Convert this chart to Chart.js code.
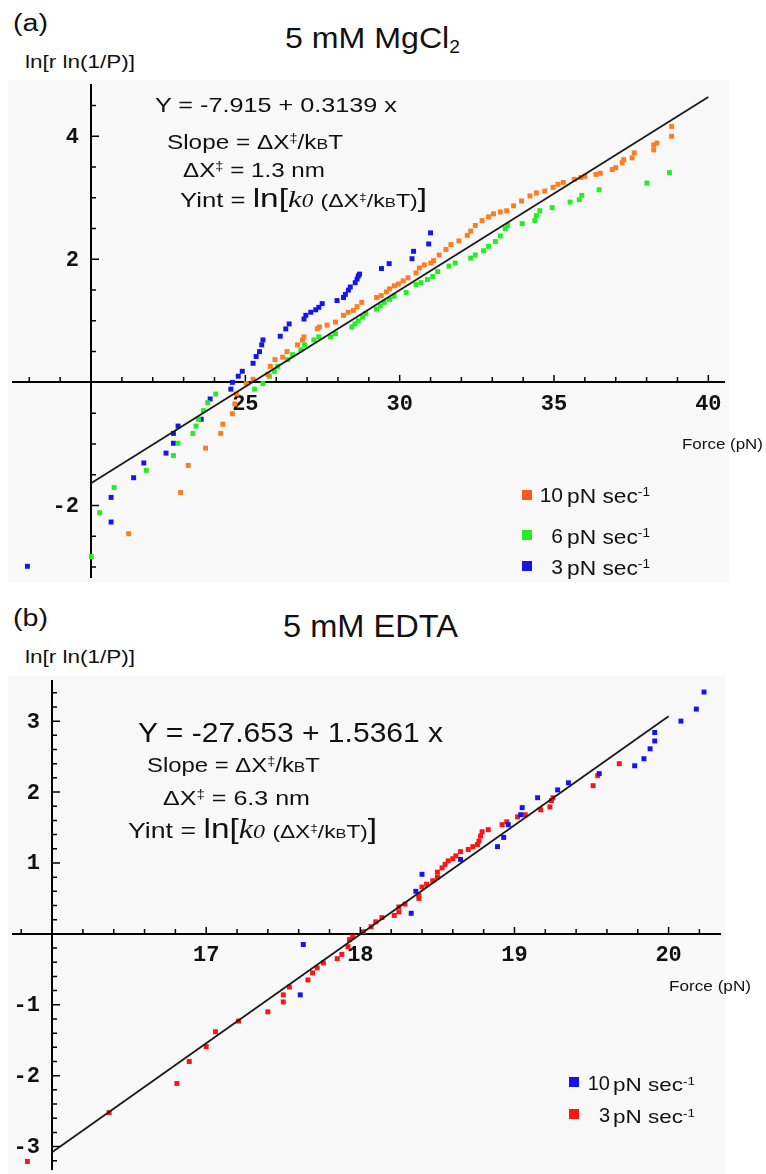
<!DOCTYPE html>
<html><head><meta charset="utf-8">
<script src="https://cdn.jsdelivr.net/npm/chart.js@4.4.0/dist/chart.umd.min.js"></script>
<style>
html,body{margin:0;padding:0;background:#fff}
body{width:766px;height:1174px;position:relative;overflow:hidden;font-family:"Liberation Sans",Arial,sans-serif;color:#111}
.t{position:absolute;white-space:nowrap;line-height:1;transform-origin:left top}
.t span,.t sup,.t sub{line-height:0}
sup{font-size:.6em;vertical-align:.55em}
sub{font-size:.6em;vertical-align:-.28em}
.k0{font-family:"Liberation Serif",serif;font-style:italic}
.sc{font-size:.72em}
.sq{position:absolute;width:10px;height:10px}
#wa{position:absolute;left:8px;top:80px;width:721px;height:502px;background:#f8f8f8}
#wb{position:absolute;left:8px;top:676px;width:717px;height:498px;background:#f8f8f8}
</style></head><body>

<div class="t fit" data-w="35" style="left:13px;top:12px;font-size:23px">(a)</div>
<div class="t fit" data-w="175" style="left:285px;top:23px;font-size:30px">5 mM MgCl<sub>2</sub></div>
<div class="t fit" data-w="110" style="left:25px;top:53px;font-size:18px">ln[r ln(1/P)]</div>

<div id="wa"><canvas id="ca"></canvas></div>

<div class="t fit" data-w="242" style="left:155px;top:94px;font-size:21px">Y = -7.915 + 0.3139 x</div>
<div class="t fit" data-w="176" style="left:167px;top:132px;font-size:20px">Slope = ΔX<sup>‡</sup>/k<span class="sc">B</span>T</div>
<div class="t fit" data-w="142" style="left:183px;top:160px;font-size:20px">ΔX<sup>‡</sup> = 1.3 nm</div>
<div class="t fit" data-w="247" style="left:180px;top:190px;font-size:20px">Yint = <span style="font-size:1.3em">ln[</span><span class="k0" style="font-size:1.2em">k<span style="font-size:.75em">0</span></span> <span style="font-size:.9em">(ΔX<sup>‡</sup>/k<span class="sc">B</span>T)</span><span style="font-size:1.3em">]</span></div>

<div class="sq" style="left:522px;top:490px;background:#ff5a14"></div>
<div class="sq" style="left:522px;top:530px;background:#22ee22"></div>
<div class="sq" style="left:522px;top:561px;background:#1414ee"></div>
<div class="t" style="left:520px;width:43px;text-align:right;top:483.5px;font-size:21px">10</div>
<div class="t" style="left:520px;width:43px;text-align:right;top:524.5px;font-size:21px">6</div>
<div class="t" style="left:520px;width:43px;text-align:right;top:555.5px;font-size:21px">3</div>
<div class="t fit" data-w="83" style="left:567px;top:485.5px;font-size:20px">pN sec<sup>-1</sup></div>
<div class="t fit" data-w="83" style="left:567px;top:526.5px;font-size:20px">pN sec<sup>-1</sup></div>
<div class="t fit" data-w="83" style="left:567px;top:557.5px;font-size:20px">pN sec<sup>-1</sup></div>
<div class="t fit" data-w="81" style="left:682px;top:436px;font-size:15px">Force (pN)</div>

<div class="t fit" data-w="35" style="left:13px;top:607px;font-size:23px">(b)</div>
<div class="t fit" data-w="175" style="left:283px;top:611px;font-size:31px">5 mM EDTA</div>
<div class="t fit" data-w="110" style="left:25px;top:648px;font-size:18px">ln[r ln(1/P)]</div>

<div id="wb"><canvas id="cb"></canvas></div>

<div class="t fit" data-w="305" style="left:138px;top:719px;font-size:28px">Y = -27.653 + 1.5361 x</div>
<div class="t fit" data-w="173" style="left:147px;top:755px;font-size:20px">Slope = ΔX<sup>‡</sup>/k<span class="sc">B</span>T</div>
<div class="t fit" data-w="147" style="left:163px;top:787px;font-size:21px">ΔX<sup>‡</sup> = 6.3 nm</div>
<div class="t fit" data-w="249" style="left:128px;top:820px;font-size:22px">Yint = <span style="font-size:1.25em">ln[</span><span class="k0" style="font-size:1.2em">k<span style="font-size:.75em">0</span></span> <span style="font-size:.85em">(ΔX<sup>‡</sup>/k<span class="sc">B</span>T)</span><span style="font-size:1.25em">]</span></div>

<div class="sq" style="left:569px;top:1077px;background:#1414ee"></div>
<div class="sq" style="left:569px;top:1109px;background:#ff1414"></div>
<div class="t" style="left:560px;width:50px;text-align:right;top:1072.5px;font-size:20px">10</div>
<div class="t" style="left:560px;width:50px;text-align:right;top:1104.5px;font-size:20px">3</div>
<div class="t fit" data-w="82" style="left:613px;top:1074.5px;font-size:19px">pN sec<sup>-1</sup></div>
<div class="t fit" data-w="82" style="left:613px;top:1106.5px;font-size:19px">pN sec<sup>-1</sup></div>
<div class="t fit" data-w="82" style="left:669px;top:978px;font-size:15px">Force (pN)</div>

<script>
// ---------- Panel (a): 5 mM MgCl2 ----------
const a10F = [21.22,22.9,23.15,23.71,24.2,24.27,24.58,24.66,24.71,25.03,25.25,25.73,25.81,25.96,26.21,26.35,26.69,26.85,26.9,27.33,27.4,27.65,27.92,28.18,28.33,28.5,28.62,28.77,29.25,29.4,29.57,29.67,29.83,29.96,30.11,30.27,30.53,30.64,30.8,31.01,31.1,31.28,31.5,31.66,31.92,32.19,32.3,32.45,32.67,32.88,33.04,33.26,33.47,33.69,33.95,34.22,34.43,34.7,34.97,35.13,35.3,35.66,35.87,36.0,36.36,36.5,36.89,37.0,37.21,37.26,37.53,37.6,38.23,38.23,38.33,38.81,38.81];
const a10Y = [-2.46,-1.79,-1.35,-1.07,-0.83,-0.68,-0.51,-0.35,-0.19,-0.02,0.05,0.13,0.26,0.37,0.41,0.50,0.61,0.69,0.74,0.87,0.9,0.93,0.98,1.09,1.14,1.17,1.23,1.30,1.38,1.41,1.47,1.52,1.57,1.6,1.65,1.70,1.78,1.86,1.91,1.94,1.98,2.07,2.16,2.24,2.3,2.39,2.46,2.55,2.63,2.69,2.74,2.77,2.79,2.87,2.95,3.03,3.08,3.11,3.17,3.22,3.25,3.3,3.33,3.35,3.38,3.4,3.46,3.49,3.57,3.62,3.65,3.73,3.78,3.86,3.89,4.0,4.16];

const a6F = [20.01,20.28,20.75,21.79,22.67,22.82,23.3,23.4,23.48,23.64,23.78,24.04,25.3,25.57,25.78,25.94,26.05,26.37,26.53,26.8,26.92,27.22,27.38,27.76,27.92,28.45,28.55,28.66,28.8,28.9,29.25,29.37,29.5,29.67,29.82,30.21,30.53,30.69,30.9,31.07,31.23,31.6,31.8,32.3,32.45,32.72,32.88,33.1,33.26,33.42,33.5,33.97,34.38,34.43,34.54,34.94,35.52,35.82,35.9,36.46,38.01,38.74];
const a6Y = [-2.83,-2.12,-1.71,-1.43,-1.19,-0.99,-0.83,-0.71,-0.6,-0.46,-0.33,-0.19,-0.11,-0.02,0.10,0.18,0.26,0.37,0.45,0.53,0.61,0.69,0.74,0.74,0.79,0.90,0.95,1.0,1.06,1.12,1.19,1.24,1.30,1.35,1.40,1.46,1.59,1.62,1.67,1.72,1.80,1.89,1.94,2.02,2.07,2.14,2.21,2.29,2.38,2.5,2.55,2.58,2.63,2.71,2.79,2.84,2.93,2.97,3.04,3.13,3.24,3.41];

const a3F = [17.94,20.65,20.65,21.38,21.71,22.43,22.67,22.67,22.82,23.57,23.86,24.53,24.58,24.77,24.9,25.25,25.35,25.46,25.53,25.57,26.13,26.31,26.42,26.9,26.96,27.12,27.28,27.38,27.49,27.97,28.18,28.24,28.34,28.4,28.56,28.62,28.66,28.7,29.41,29.66,30.4,30.45,30.94,31.0];
const a3Y = [-2.99,-2.27,-1.87,-1.55,-1.31,-1.15,-0.99,-0.83,-0.71,-0.6,-0.27,-0.11,0.0,0.10,0.18,0.31,0.42,0.50,0.61,0.69,0.75,0.87,0.95,1.03,1.09,1.14,1.18,1.22,1.28,1.33,1.38,1.43,1.50,1.55,1.62,1.68,1.73,1.76,1.85,1.93,2.01,2.13,2.25,2.43];

const fitAF = [20, 40];
const fitAY = [-1.64, 4.64];

const aXTickVals = [25, 30, 35, 40];
const aXTickLabels = ['25', '30', '35', '40'];
const aYTickVals = [4, 2, -2];
const aYTickLabels = ['4', '2', '-2'];

// ---------- Panel (b): 5 mM EDTA ----------
const b3F = [15.84,16.37,16.81,16.89,17.0,17.06,17.21,17.4,17.5,17.5,17.54,17.66,17.69,17.72,17.76,17.85,17.88,17.92,17.93,17.95,18.02,18.07,18.1,18.14,18.22,18.25,18.25,18.29,18.38,18.38,18.4,18.43,18.47,18.5,18.5,18.53,18.55,18.57,18.6,18.62,18.65,18.7,18.73,18.76,18.77,18.78,18.79,18.83,18.92,18.95,19.02,19.07,19.17,19.23,19.24,19.25,19.51,19.54,19.68];
const b3Y = [-3.21,-2.52,-2.11,-1.80,-1.59,-1.38,-1.23,-1.10,-0.96,-0.86,-0.75,-0.65,-0.55,-0.48,-0.41,-0.35,-0.29,-0.18,-0.08,-0.04,0.03,0.10,0.17,0.23,0.26,0.31,0.38,0.42,0.5,0.54,0.66,0.70,0.75,0.8,0.87,0.93,0.98,1.03,1.06,1.10,1.16,1.19,1.23,1.26,1.31,1.38,1.44,1.47,1.54,1.58,1.65,1.68,1.75,1.79,1.88,1.92,2.09,2.23,2.40];

const b10F = [17.61,17.63,18.33,18.36,18.4,18.65,18.89,18.93,18.96,19.04,19.05,19.15,19.28,19.35,19.55,19.78,19.84,19.88,19.91,19.91,20.08,20.18,20.23];
const b10Y = [-0.86,-0.15,0.29,0.60,0.84,1.05,1.23,1.36,1.54,1.68,1.78,1.92,2.03,2.13,2.26,2.37,2.47,2.61,2.72,2.84,3.0,3.17,3.41];

const fitBF = [16, 20];
const fitBY = [-3.08, 3.07];

const bXTickVals = [17, 18, 19, 20];
const bXTickLabels = ['17', '18', '19', '20'];
const bYTickVals = [3, 2, 1, -1, -2, -3];
const bYTickLabels = ['3', '2', '1', '-1', '-2', '-3'];

// ---------- helpers ----------
function pts(fs, ys) { return fs.map((f, i) => ({ x: f, y: ys[i] })); }

const crossAxes = {
  id: 'crossAxes',
  beforeDatasetsDraw(chart, args, o) {
    const { ctx, chartArea: a, scales: { x, y } } = chart;
    const ox = Math.round(x.getPixelForValue(o.originX));
    const oy = Math.round(y.getPixelForValue(o.originY));
    ctx.save();
    ctx.strokeStyle = '#000';
    ctx.lineWidth = 2;
    ctx.beginPath();
    ctx.moveTo(a.left, oy); ctx.lineTo(a.right, oy);
    ctx.moveTo(ox, a.top); ctx.lineTo(ox, a.bottom);
    ctx.stroke();
    ctx.lineWidth = 1.5;
    ctx.beginPath();
    const isMajor = (v, vals) => vals.some(m => Math.abs(m - v) < 1e-6);
    for (let i = Math.ceil(x.min / o.xStep - 1e-9); i * o.xStep <= x.max + 1e-9; i++) {
      const v = i * o.xStep;
      const px = x.getPixelForValue(v);
      const len = isMajor(v, o.xMajor) ? 7 : 5;
      ctx.moveTo(px, oy); ctx.lineTo(px, oy - len);
    }
    for (let i = Math.ceil(y.min / o.yStep - 1e-9); i * o.yStep <= y.max + 1e-9; i++) {
      const v = i * o.yStep;
      const py = y.getPixelForValue(v);
      const len = isMajor(v, o.yMajor) ? 8 : 5;
      ctx.moveTo(ox, py); ctx.lineTo(ox + len, py);
    }
    ctx.stroke();
    ctx.fillStyle = '#111';
    ctx.font = o.font;
    ctx.textAlign = 'center';
    ctx.textBaseline = 'middle';
    o.xVals.forEach((v, i) => ctx.fillText(o.xLabels[i], x.getPixelForValue(v), oy + o.xLabelDy));
    ctx.textAlign = 'right';
    o.yVals.forEach((v, i) => ctx.fillText(o.yLabels[i], ox - o.yLabelDx, y.getPixelForValue(v) + 1));
    ctx.restore();
  }
};

function makeChart(id, sets, xr, yr, axesOpts) {
  return new Chart(document.getElementById(id), {
    type: 'scatter',
    data: { datasets: sets },
    options: {
      responsive: true, maintainAspectRatio: false, animation: false, events: [],
      layout: { padding: 0 },
      scales: {
        x: { type: 'linear', min: xr[0], max: xr[1], display: false },
        y: { type: 'linear', min: yr[0], max: yr[1], display: false }
      },
      elements: { point: { pointStyle: 'rect', radius: 3.5, borderWidth: 0 } },
      plugins: { legend: { display: false }, tooltip: { enabled: false }, crossAxes: axesOpts }
    },
    plugins: [crossAxes]
  });
}

const tickFont = 'bold 22px "Liberation Mono", "DejaVu Sans Mono", monospace';

makeChart('ca', [
  { label: 'fit', data: pts(fitAF, fitAY), showLine: true, borderColor: '#1a1a1a', borderWidth: 1.8, pointRadius: 0 },
  { label: '10 pN sec-1', data: pts(a10F, a10Y), backgroundColor: '#ff7d20', pointBackgroundColor: '#ff7d20' },
  { label: '6 pN sec-1', data: pts(a6F, a6Y), backgroundColor: '#22ee22', pointBackgroundColor: '#22ee22' },
  { label: '3 pN sec-1', data: pts(a3F, a3Y), backgroundColor: '#1414ee', pointBackgroundColor: '#1414ee' }
], [17.44, 40.54], [-3.18, 4.85], {
  originX: 20, originY: 0, xStep: 1, yStep: 0.5, xMajor: aXTickVals, yMajor: aYTickVals,
  xVals: aXTickVals, xLabels: aXTickLabels, yVals: aYTickVals, yLabels: aYTickLabels,
  xLabelDy: 22, yLabelDx: 12, font: tickFont
});

makeChart('cb', [
  { label: 'fit', data: pts(fitBF, fitBY), showLine: true, borderColor: '#1a1a1a', borderWidth: 1.8, pointRadius: 0 },
  { label: '10 pN sec-1', data: pts(b10F, b10Y), backgroundColor: '#1414ee', pointBackgroundColor: '#1414ee' },
  { label: '3 pN sec-1', data: pts(b3F, b3Y), backgroundColor: '#ff1414', pointBackgroundColor: '#ff1414' }
], [15.74, 20.34], [-3.33, 3.58], {
  originX: 16, originY: 0, xStep: 0.2, yStep: 0.2, xMajor: bXTickVals, yMajor: [3, 2, 1, -1, -2, -3],
  xVals: bXTickVals, xLabels: bXTickLabels, yVals: bYTickVals, yLabels: bYTickLabels,
  xLabelDy: 21, yLabelDx: 12, font: tickFont
});

// stretch text boxes horizontally to the widths measured on the reference
document.querySelectorAll('.fit').forEach(el => {
  const w = el.getBoundingClientRect().width;
  const target = parseFloat(el.dataset.w);
  if (w > 0) el.style.transform = 'scaleX(' + (target / w).toFixed(3) + ')';
});
</script>
</body></html>
